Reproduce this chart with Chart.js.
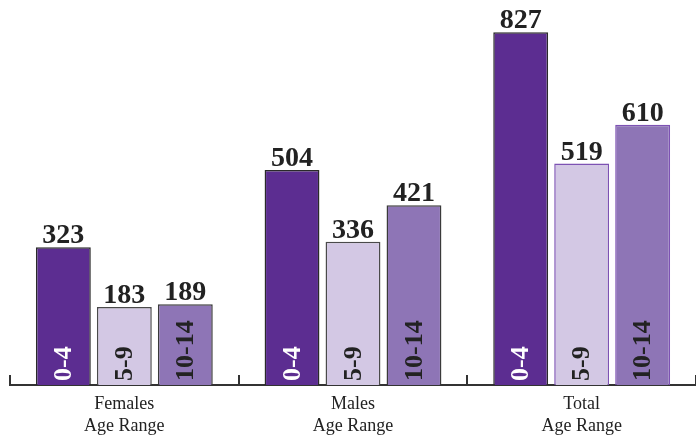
<!DOCTYPE html>
<html>
<head>
<meta charset="utf-8">
<script src="https://cdn.jsdelivr.net/npm/chart.js@4/dist/chart.umd.min.js"></script>
<style>
  html, body { margin: 0; padding: 0; background: #ffffff; }
  #wrap { position: relative; width: 696px; height: 438px; }
</style>
</head>
<body>
<div id="wrap"><canvas id="c" width="696" height="438"></canvas></div>
<script>
const groups = [['Females', 'Age Range'], ['Males', 'Age Range'], ['Total', 'Age Range']];
const ageRanges = ['0-4', '5-9', '10-14'];
const values04 = [323, 504, 827];
const values59 = [183, 336, 519];
const values1014 = [189, 421, 610];

const fills = ['#5c2d91', '#d3c8e4', '#8e75b6'];
const borders = [
  ['#2a2a2a', '#2a2a2a', '#2a2a2a'],
  ['#4a4a4a', '#4a4a4a', '#7d52b3'],
  ['#3a3a3a', '#3a3a3a', '#7d52b3']
];
const innerText = ['#ffffff', '#222222', '#222222'];
const serif = '"Liberation Serif", "DejaVu Serif", serif';

const labelPlugin = {
  id: 'barLabels',
  afterDatasetsDraw(chart) {
    const ctx = chart.ctx;
    chart.data.datasets.forEach((ds, di) => {
      const meta = chart.getDatasetMeta(di);
      meta.data.forEach((bar, i) => {
        const p = bar.getProps(['x', 'y', 'base'], true);
        ctx.save();
        ctx.font = 'bold 28px ' + serif;
        ctx.fillStyle = '#222222';
        ctx.textAlign = 'center';
        ctx.textBaseline = 'alphabetic';
        ctx.fillText(String(ds.data[i]), p.x, p.y - 4);
        ctx.restore();
        ctx.save();
        ctx.translate(p.x, p.base - 4);
        ctx.rotate(-Math.PI / 2);
        ctx.font = 'bold 26px ' + serif;
        ctx.fillStyle = innerText[di];
        ctx.textAlign = 'left';
        ctx.textBaseline = 'middle';
        ctx.fillText(ds.label, 0, 1);
        ctx.restore();
      });
    });
  }
};

new Chart(document.getElementById('c'), {
  type: 'bar',
  data: {
    labels: groups,
    datasets: [
      { label: ageRanges[0], data: values04, backgroundColor: fills[0], borderColor: borders[0], borderWidth: 1.5 },
      { label: ageRanges[1], data: values59, backgroundColor: fills[1], borderColor: borders[1], borderWidth: 1.5 },
      { label: ageRanges[2], data: values1014, backgroundColor: fills[2], borderColor: borders[2], borderWidth: 1.5 }
    ]
  },
  options: {
    responsive: false,
    animation: false,
    devicePixelRatio: 1,
    layout: { padding: { left: 10, right: 0, top: 1, bottom: -18 } },
    plugins: { legend: { display: false }, tooltip: { enabled: false } },
    datasets: { bar: { categoryPercentage: 0.8, barPercentage: 0.9 } },
    scales: {
      y: { display: false, min: 0, max: 900 },
      x: {
        offset: true,
        border: { display: true, color: '#333333', width: 2 },
        grid: {
          offset: true,
          drawOnChartArea: false,
          drawTicks: true,
          tickLength: -10,
          lineWidth: 2,
          color: (c) => (c.index === groups.length ? 'rgba(0,0,0,0)' : '#333333')
        },
        ticks: {
          color: '#222222',
          padding: 18,
          maxRotation: 0,
          font: { family: serif, size: 18, lineHeight: 1.25 }
        }
      }
    }
  },
  plugins: [labelPlugin]
});
</script>
</body>
</html>
